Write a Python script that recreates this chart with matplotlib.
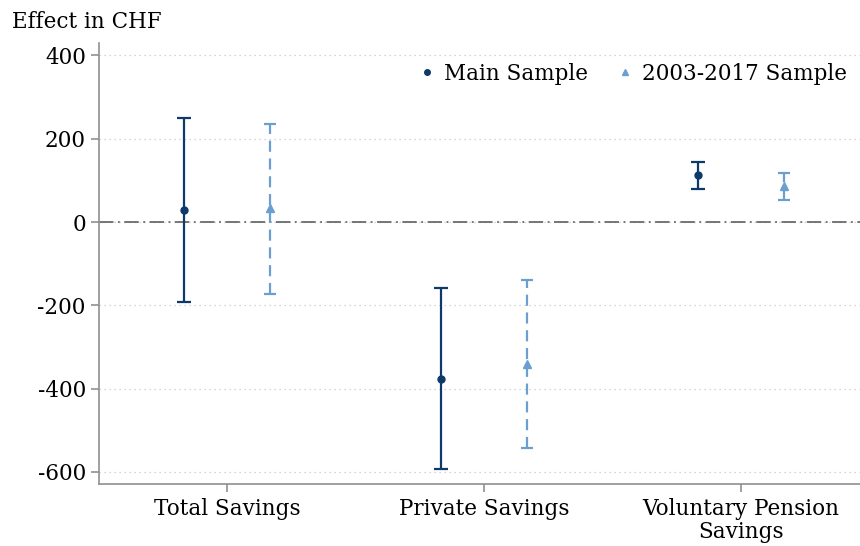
import matplotlib
matplotlib.use("Agg")
import matplotlib.pyplot as plt
import numpy as np
from matplotlib.lines import Line2D

categories = ["Total Savings", "Private Savings", "Voluntary Pension\nSavings"]
main_est = [28, -376, 113]
main_lo = [-193, -593, 80]
main_hi = [250, -159, 145]
alt_est = [34, -342, 87]
alt_lo = [-173, -542, 53]
alt_hi = [236, -140, 118]
series_names = ["Main Sample", "2003-2017 Sample"]
yticks = [-600, -400, -200, 0, 200, 400]

plt.rcParams['font.family'] = ['DejaVu Serif']
plt.rcParams['font.size'] = 15.5

fig = plt.figure(figsize=(8.6, 5.46), dpi=100)
ax = fig.add_axes([99/860, 1-484/546, 1-99/860, (484-43)/546])

c_main = "#0d3a6b"
c_alt = "#6a9fd0"
x = np.arange(1, len(categories)+1)
off = 0.167

ax.axhline(0, color="#6b6b6b", lw=1.3, ls=(0, (8, 2.5, 1, 2.5)), zorder=1)
for v in yticks:
    ax.axhline(v, color="#c8c8c8", lw=0.9, ls=(0, (1, 3)), zorder=0)

xm = x - off
xa = x + off
m_est = np.array(main_est); a_est = np.array(alt_est)
e1 = ax.errorbar(xm, m_est, yerr=[m_est-np.array(main_lo), np.array(main_hi)-m_est],
                 fmt='o', color=c_main, ms=5, lw=1.6, capsize=5, capthick=1.6, zorder=3,
                 label=series_names[0])
e2 = ax.errorbar(xa, a_est, yerr=[a_est-np.array(alt_lo), np.array(alt_hi)-a_est],
                 fmt='^', color=c_alt, ms=5.5, lw=1.6, capsize=4, capthick=1.6, zorder=3,
                 label=series_names[1])
e2[2][0].set_linestyle((0, (5, 3)))

ax.set_xlim(0.5, 3.465)
ax.set_ylim(-629, 430)
ax.set_yticks(yticks)
ax.set_yticklabels([str(v) for v in yticks])
ax.set_xticks(x)
ax.set_xticklabels(categories, linespacing=1.05)
for s in ["top", "right"]:
    ax.spines[s].set_visible(False)
for s in ["left", "bottom"]:
    ax.spines[s].set_color("#909090")
    ax.spines[s].set_linewidth(1.2)
ax.tick_params(axis='both', colors="#909090", labelcolor="black", length=6, width=1.2, labelsize=15.5)
ax.tick_params(axis='x', pad=4)

fig.text(12/860, 1-22/546, "Effect in CHF", fontsize=15.5, va='center', ha='left')

h1 = Line2D([], [], marker='o', color=c_main, ls='none', ms=4)
h2 = Line2D([], [], marker='^', color=c_alt, ls='none', ms=4.5)
ax.legend([h1, h2], series_names, loc='upper right', bbox_to_anchor=(1.0, 1.0 - 7/441),
          ncol=2, frameon=False, fontsize=15.5, handletextpad=0.3, columnspacing=1.2,
          borderaxespad=0.2, handlelength=1.0)

fig.savefig("out.png", dpi=100)
